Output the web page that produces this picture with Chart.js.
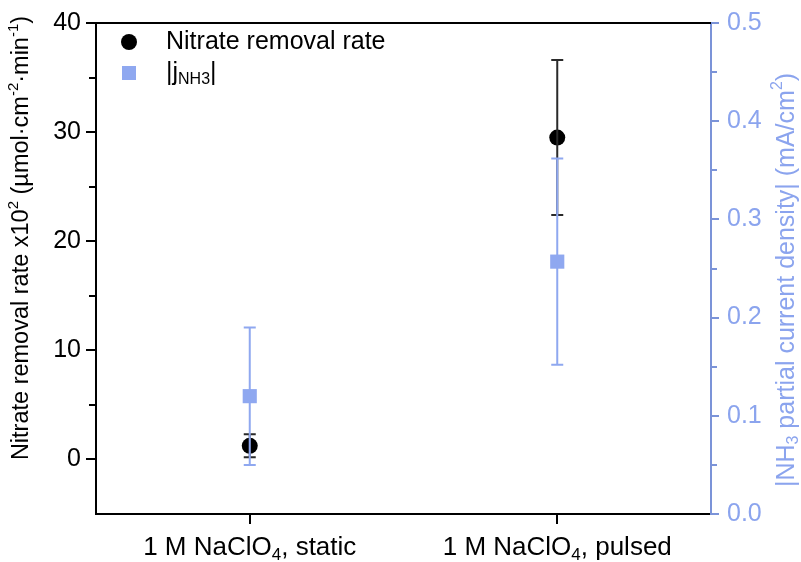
<!DOCTYPE html>
<html>
<head>
<meta charset="utf-8">
<script src="https://cdn.jsdelivr.net/npm/chart.js@4.4.0/dist/chart.umd.min.js"></script>
<style>
  html, body { margin: 0; padding: 0; background: #fff; }
</style>
</head>
<body>
<canvas id="grafico" width="801" height="562"></canvas>
<script>
// DATOS
const categorias = ["1 M NaClO4, static", "1 M NaClO4, pulsed"];
const tasaNitrato = [1.25, 29.5];      // x10^2 µmol·cm-2·min-1
const errorNitrato = [1.05, 7.1];
const jNH3 = [0.12, 0.257];            // mA/cm2
const errorJ = [0.07, 0.105];
const ticksIzq = [0, 10, 20, 30, 40];
const menoresIzq = [5, 15, 25, 35];
const ticksDer = [0, 0.1, 0.2, 0.3, 0.4, 0.5];
const menoresDer = [0.05, 0.15, 0.25, 0.35, 0.45];

const FUENTE = "'Liberation Sans', Arial, sans-serif";
const AZUL = "#8fa8f0";
const AZUL_EJE = "#7b93d8";
const AZUL_TEXTO = "#8ba4ee";

Chart.defaults.font.family = FUENTE;

// texto con subindices / superindices: partes = [[texto, 'sub'|'sup'|null], ...]
function textoRico(ctx, partes, x, y, size, color, align) {
  const chica = Math.round(size * 0.65);
  let total = 0;
  const anchos = partes.map(p => {
    ctx.font = (p[1] ? chica : size) + "px " + FUENTE;
    const w = ctx.measureText(p[0]).width;
    total += w;
    return w;
  });
  let cx = align === "left" ? x : x - total / 2;
  ctx.fillStyle = color;
  ctx.textBaseline = "middle";
  ctx.textAlign = "left";
  partes.forEach((p, i) => {
    let dy = 0;
    if (p[1] === "sub") dy = size * 0.28;
    if (p[1] === "sup") dy = -size * 0.36;
    ctx.font = (p[1] ? chica : size) + "px " + FUENTE;
    ctx.fillText(p[0], cx, y + dy);
    cx += anchos[i];
  });
}

function barraError(ctx, x, yArriba, yAbajo, color, tapa) {
  ctx.strokeStyle = color;
  ctx.lineWidth = 2;
  ctx.beginPath();
  ctx.moveTo(x, yArriba); ctx.lineTo(x, yAbajo);
  ctx.moveTo(x - tapa, yArriba); ctx.lineTo(x + tapa, yArriba);
  ctx.moveTo(x - tapa, yAbajo); ctx.lineTo(x + tapa, yAbajo);
  ctx.stroke();
}

const decoraciones = {
  id: "decoraciones",
  afterDatasetsDraw(chart) {
    const ctx = chart.ctx;
    const x = chart.scales.x, y = chart.scales.y, y2 = chart.scales.y2;
    ctx.save();
    // barras de error
    tasaNitrato.forEach((v, i) => {
      const px = x.getPixelForValue(i);
      barraError(ctx, px, y.getPixelForValue(v + errorNitrato[i]), y.getPixelForValue(v - errorNitrato[i]), "#2a2a2a", 6);
    });
    jNH3.forEach((v, i) => {
      const px = x.getPixelForValue(i);
      barraError(ctx, px, y2.getPixelForValue(v + errorJ[i]), y2.getPixelForValue(v - errorJ[i]), AZUL, 6);
    });
    ctx.restore();
  },
  afterDraw(chart) {
    const ctx = chart.ctx;
    const area = chart.chartArea;
    const x = chart.scales.x, y = chart.scales.y, y2 = chart.scales.y2;
    ctx.save();
    // borde superior
    ctx.strokeStyle = "#000";
    ctx.lineWidth = 2;
    ctx.beginPath();
    ctx.moveTo(area.left - 1, area.top);
    ctx.lineTo(area.right, area.top);
    ctx.stroke();
    // ticks menores
    ctx.beginPath();
    menoresIzq.forEach(v => {
      const py = Math.round(y.getPixelForValue(v));
      ctx.moveTo(area.left, py); ctx.lineTo(area.left - 7, py);
    });
    ctx.stroke();
    ctx.strokeStyle = AZUL_EJE;
    ctx.beginPath();
    menoresDer.forEach(v => {
      const py = Math.round(y2.getPixelForValue(v));
      ctx.moveTo(area.right, py); ctx.lineTo(area.right + 6, py);
    });
    ctx.stroke();

    // etiquetas de categoria
    categorias.forEach((c, i) => {
      const px = x.getPixelForValue(i);
      const partes = c.replace("NaClO4", "NaClO|4|").split("|");
      textoRico(ctx, [[partes[0]], [partes[1], "sub"], [partes[2]]], px, 548, 26, "#000", "center");
    });

    // titulo eje izquierdo
    ctx.save();
    ctx.translate(22, 238);
    ctx.rotate(-Math.PI / 2);
    textoRico(ctx, [["Nitrate removal rate x10"], ["2", "sup"], [" (\u00b5mol\u00b7cm"], ["-2", "sup"], ["\u00b7min"], ["-1", "sup"], [")"]], 0, 0, 23.5, "#000", "center");
    ctx.restore();

    // titulo eje derecho
    ctx.save();
    ctx.translate(787, 280);
    ctx.rotate(-Math.PI / 2);
    textoRico(ctx, [["|NH"], ["3", "sub"], [" partial current density| (mA/cm"], ["2", "sup"], [")"]], 0, 0, 25, AZUL_TEXTO, "center");
    ctx.restore();

    // leyenda
    ctx.fillStyle = "#000";
    ctx.beginPath(); ctx.arc(129, 42, 8, 0, Math.PI * 2); ctx.fill();
    textoRico(ctx, [["Nitrate removal rate"]], 166, 42, 25, "#000", "left");
    ctx.fillStyle = AZUL;
    ctx.fillRect(122, 66, 14, 14);
    textoRico(ctx, [["|j"], ["NH3", "sub"], ["|"]], 166, 73, 25, "#000", "left");
    ctx.restore();
  }
};

const ctx = document.getElementById("grafico").getContext("2d");
new Chart(ctx, {
  type: "line",
  data: {
    labels: categorias,
    datasets: [
      {
        label: "Nitrate removal rate",
        data: tasaNitrato,
        yAxisID: "y",
        showLine: false,
        pointStyle: "circle",
        pointRadius: 8,
        pointBorderWidth: 0,
        backgroundColor: "#000",
        borderColor: "#000"
      },
      {
        label: "|jNH3|",
        data: jNH3,
        yAxisID: "y2",
        showLine: false,
        pointStyle: "rect",
        pointRadius: 10,
        pointBorderWidth: 0,
        backgroundColor: AZUL,
        borderColor: AZUL
      }
    ]
  },
  options: {
    responsive: false,
    animation: false,
    layout: { padding: { top: 20, left: 0, right: 0, bottom: 0 } },
    plugins: {
      legend: { display: false },
      tooltip: { enabled: false }
    },
    scales: {
      x: {
        type: "category",
        offset: true,
        grid: { display: true, drawOnChartArea: false, drawTicks: true, tickLength: 10, color: "#000", lineWidth: 2 },
        border: { display: true, color: "#000", width: 2 },
        ticks: { display: false },
        afterFit(s) { s.height = 48; }
      },
      y: {
        position: "left",
        min: -5,
        max: 40,
        afterBuildTicks(s) { s.ticks = ticksIzq.map(v => ({ value: v })); },
        grid: { drawOnChartArea: false, drawTicks: true, tickLength: 10, color: "#000", lineWidth: 2 },
        border: { display: true, color: "#000", width: 2 },
        ticks: { color: "#000", font: { size: 25 }, padding: 5 },
        afterFit(s) { s.width = 96; }
      },
      y2: {
        position: "right",
        min: 0,
        max: 0.5,
        afterBuildTicks(s) { s.ticks = ticksDer.map(v => ({ value: v })); },
        grid: { drawOnChartArea: false, drawTicks: true, tickLength: 8, color: AZUL_EJE, lineWidth: 2 },
        border: { display: true, color: AZUL_EJE, width: 2 },
        ticks: { color: AZUL_TEXTO, font: { size: 25 }, padding: 8, callback: v => v.toFixed(1) },
        afterFit(s) { s.width = 90; }
      }
    }
  },
  plugins: [decoraciones]
});
</script>
</body>
</html>
